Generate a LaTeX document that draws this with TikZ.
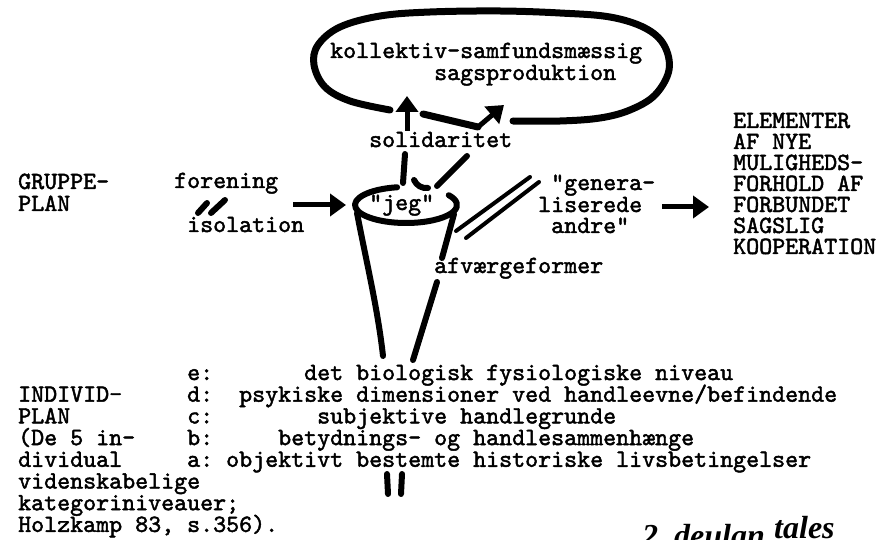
\documentclass[tikz,border=0pt]{standalone}
\usepackage{fontspec}
\usetikzlibrary{arrows.meta}
\newfontfamily\tw{lmmono10-regular.otf}[FakeBold=1.8]
\newfontfamily\hw{Liberation Serif}
\newcommand\twf{\tw\fontsize{24.76}{21.7}\selectfont}
\begin{document}
\begin{tikzpicture}[x=1pt,y=-1pt,
  txt/.style={anchor=base west,inner sep=0pt,font=\twf,text height=13pt,text depth=4pt},
  hand/.style={anchor=base west,inner sep=0pt,font=\hw\bfseries\itshape\fontsize{32}{32}\selectfont,text height=14pt,text depth=0pt},
  ink/.style={line width=6pt,line cap=round,line join=round},
  loopline/.style={line width=7pt,line cap=round,line join=round},
  fat/.style={line width=5pt,-{Triangle[width=22pt,length=16pt]}},
  tick/.style={line width=6pt,line cap=round},
  twin/.style={line width=4pt,line cap=round}]
\useasboundingbox (0,0) rectangle (886,540);
\clip (0,0) rectangle (886,540);
\fill[white] (0,0) rectangle (886,540);

% ---------- texts ----------
\node[txt] (koll) at (330,58) {kollektiv-samfundsmæssig};
\node[txt] (sags) at (434,80) {sagsproduktion};
\node[txt] (sol) at (369,147) {solidaritet};
\node[txt] (jeg) at (369,210) {"jeg"};
\node[txt] (grp1) at (18,189) {GRUPPE-};
\node[txt] (grp2) at (18,211) {PLAN};
\node[txt] (for) at (174,188) {forening};
\node[txt] (iso) at (187,232) {isolation};
\node[txt] (gen1) at (551,190) {"genera-};
\node[txt] (gen2) at (538,212) {liserede};
\node[txt] (gen3) at (551,233) {andre"};
\node[txt] (afv) at (434,273) {afværgeformer};
\node[txt] (el1) at (733,128) {ELEMENTER};
\node[txt] (el2) at (733,149) {AF NYE};
\node[txt] (el3) at (733,170) {MULIGHEDS-};
\node[txt] (el4) at (733,191) {FORHOLD AF};
\node[txt] (el5) at (733,212) {FORBUNDET};
\node[txt] (el6) at (733,233) {SAGSLIG};
\node[txt] (el7) at (733,254) {KOOPERATION};

\node[txt] (ind1) at (18,401.7) {INDIVID-};
\node[txt] (ind2) at (18,423.4) {PLAN};
\node[txt] (ind3) at (18,445.1) {(De 5 in-};
\node[txt] (ind4) at (18,466.8) {dividual};
\node[txt] (ind5) at (18,488.5) {videnskabelige};
\node[txt] (ind6) at (18,510.2) {kategoriniveauer;};
\node[txt] (ind7) at (18,531.9) {Holzkamp 83, s.356).};

\node[txt] (le) at (187,380) {e:};
\node[txt] (ld) at (187,401.7) {d:};
\node[txt] (lc) at (187,423.4) {c:};
\node[txt] (lb) at (187,445.1) {b:};
\node[txt] (la) at (187,466.8) {a:};
\node[txt] (te) at (304,380) {det biologisk fysiologiske niveau};
\node[txt] (td) at (239,401.7) {psykiske dimensioner ved handleevne/befindende};
\node[txt] (tc) at (317,423.4) {subjektive handlegrunde};
\node[txt] (tb) at (278,445.1) {betydnings- og handlesammenhænge};
\node[txt] (ta) at (226,466.8) {objektivt bestemte historiske livsbetingelser};

\node[hand] (hw1) at (642,546) {2};
\node[hand] (hw2) at (674,546) {deulan};
\node[hand] (hw3) at (774,538) {tales};

% ---------- named points ----------
\coordinate (cupc) at (406,205);
\coordinate (solV) at (407,131);
\coordinate (loopV) at (407,96);
\coordinate (solD) at (478,127);
\coordinate (loopD) at (504,105);
\coordinate (isoE) at (293,205);
\coordinate (jegW) at (346,205);
\coordinate (genE) at (662,207);
\coordinate (elW) at (709,207);

% ---------- the loop ----------
\draw[loopline] plot[smooth,tension=0.6] coordinates {
  (513,121) (560,121) (600,118) (630,110) (655,95) (669,70) (664,45)
  (645,28) (610,17) (560,13) (500,11) (430,12) (380,16) (340,27)
  (318,45) (314,65) (325,87) (350,101) (390,110)};
\draw[loopline] (423,114) -- (solD);

% ---------- arrows into the loop ----------
\draw[fat] (solV) -- (loopV);
\draw[fat] (solD) -- (loopD);

% ---------- strokes between solidaritet and "jeg" ----------
\draw[ink] (405,154) -- (403,183);
\draw[ink] (414,180) to[bend right=35] (428,188);
\draw[ink] (467,156) -- (437,186);

% ---------- the cup ----------
\draw[ink] (cupc) ++(260:51 and 18) arc[start angle=260,end angle=-33,x radius=51,y radius=18];
\draw[ink] (357,213) .. controls (366,260) and (378,310) .. (383,356);
\draw[ink] (454,214) -- (442,258);
\draw[ink] (437,282) -- (413,360);

% ---------- double line to "generaliserede andre" ----------
\draw[twin] (456,231) -- (530,177);
\draw[twin] (466,238) -- (539,182);

% ---------- side arrows ----------
\draw[fat] (isoE) -- (jegW);
\draw[fat] (genE) -- (elW);

% ---------- marks ----------
\draw[tick] (198,213) -- (207,203);
\draw[tick] (211,213) -- (225,200);
\draw[tick] (387,474) -- (388,494);
\draw[tick] (402,474) -- (401,494);
\end{tikzpicture}
\end{document}
